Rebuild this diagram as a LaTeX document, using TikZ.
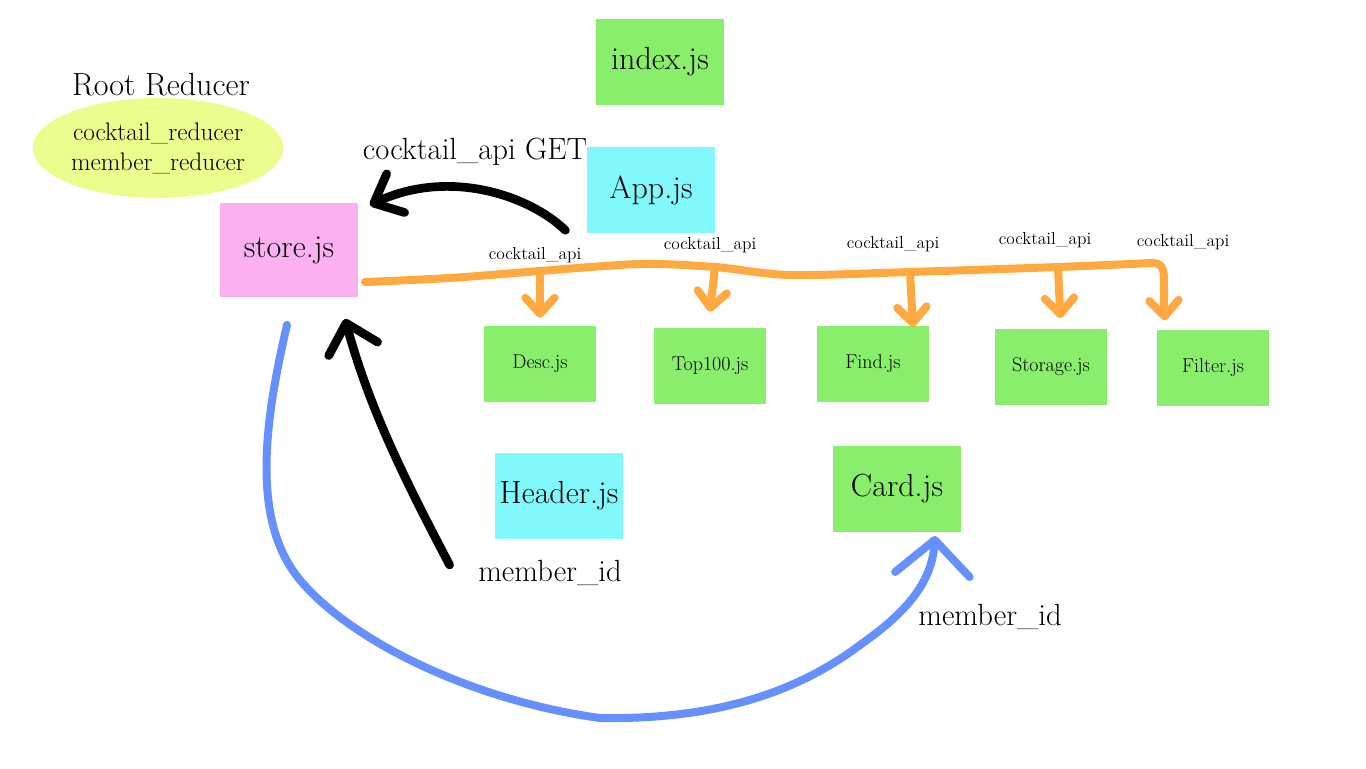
\documentclass[tikz,border=0pt]{standalone}
\usepackage{tikz}
\usetikzlibrary{shapes.geometric, arrows.meta}
\definecolor{jsgreen}{RGB}{136,238,108}
\definecolor{jscyan}{RGB}{128,248,252}
\definecolor{jspink}{RGB}{251,176,240}
\definecolor{reducer}{RGB}{235,253,141}
\definecolor{apiorange}{RGB}{255,169,64}
\definecolor{idblue}{RGB}{102,144,255}
\tikzstyle{bigfile} = [rectangle, minimum width=96pt, minimum height=64pt, text centered, font=\fontsize{24}{28}\selectfont]
\tikzstyle{smallfile} = [rectangle, fill=jsgreen, minimum width=84pt, minimum height=57pt, text centered, font=\fontsize{15}{18}\selectfont]
\tikzstyle{bigtext} = [font=\fontsize{23}{27}\selectfont]
\tikzstyle{apitext} = [font=\fontsize{13}{15}\selectfont]
\tikzstyle{hand} = [line width=6pt, line cap=round, line join=round]
\tikzstyle{apiarrow} = [hand, apiorange, -{Straight Barb[length=12pt,width=22pt,round]}]

\begin{document}
\begin{tikzpicture}[x=0.75pt, y=-0.75pt]
    \useasboundingbox (0,0) rectangle (1366,768);

    \node (index) [bigfile, fill=jsgreen] at (660,62) {index.js};
    \node (app) [bigfile, fill=jscyan] at (651,190) {App.js};
    \node (store) [bigfile, fill=jspink, minimum width=103pt, minimum height=70pt] at (289,250) {store.js};
    \node (root) [bigtext, font=\fontsize{24}{28}\selectfont] at (161,85) {Root Reducer};
    \node (reducers) [ellipse, fill=reducer, inner sep=0pt, minimum width=188pt, minimum height=75pt, align=center, font=\fontsize{19}{22.5}\selectfont] at (158,148) {cocktail\_reducer\\member\_reducer};
    \node (get) [bigtext] at (475,152) {cocktail\_api GET};

    \node (desc) [smallfile] at (540,364) {Desc.js};
    \node (top) [smallfile] at (710,366) {Top100.js};
    \node (find) [smallfile] at (873,364) {Find.js};
    \node (storage) [smallfile] at (1051,367) {Storage.js};
    \node (filter) [smallfile] at (1213,368) {Filter.js};
    \node (header) [bigfile, fill=jscyan] at (559,496) {Header.js};
    \node (card) [bigfile, fill=jsgreen] at (897,489) {Card.js};

    \node (api1) [apitext] at (535,255) {cocktail\_api};
    \node (api2) [apitext] at (710,245) {cocktail\_api};
    \node (api3) [apitext] at (893,244) {cocktail\_api};
    \node (api4) [apitext] at (1045,240) {cocktail\_api};
    \node (api5) [apitext] at (1183,242) {cocktail\_api};
    \node (id1) [bigtext] at (550,573) {member\_id};
    \node (id2) [bigtext] at (990,617) {member\_id};

    % orange bus
    \coordinate (b0) at ([shift={(7,32)}]store.east);
    \coordinate (b1) at (540,271);
    \coordinate (b2) at (715,267);
    \coordinate (b3) at (910,272);
    \coordinate (b4) at (1058,267);
    \coordinate (b5) at (1152,263);
    \draw [hand, apiorange] plot[smooth, tension=0.5] coordinates {(b0) (450,278) (b1) (640,264) (b2) (790,275) (b3) (b4) (b5)};
    \draw [apiarrow] (b1) -- ([yshift=6pt]desc.north);
    \draw [apiarrow] (b2) -- ([yshift=12pt]top.north);
    \draw [apiarrow] (b3) -- ([xshift=30pt,yshift=-1pt]find.north);
    \draw [apiarrow] (b4) -- ([xshift=7pt,yshift=8pt]storage.north);
    \draw [apiarrow] (b5) .. controls (1168,263) and (1163,276) .. ([xshift=6pt,yshift=7pt]filter.north west);

    % black arrows
    \draw [hand, line width=6.5pt, -{Straight Barb[length=18pt,width=32pt,round]}] ([xshift=-16pt,yshift=2pt]app.south west) .. controls (530,196) and (450,168) .. ([shift={(12,2)}]store.north east);
    \draw [hand, line width=6.5pt, -{Straight Barb[length=20pt,width=38pt,round]}] ([xshift=-18pt,yshift=6pt]id1.west) .. controls (405,480) and (370,410) .. ([shift={(-13,22)}]store.south east);

    % blue arrow
    \draw [hand, idblue, -{Straight Barb[length=26pt,width=56pt,round]}] ([shift={(-2,28)}]store.south) .. controls (265,420) and (250,520) .. (300,580) .. controls (350,640) and (470,700) .. (600,718) .. controls (720,720) and (800,690) .. (860,645) .. controls (910,610) and (932,580) .. ([shift={(38,4)}]card.south);

\end{tikzpicture}
\end{document}
